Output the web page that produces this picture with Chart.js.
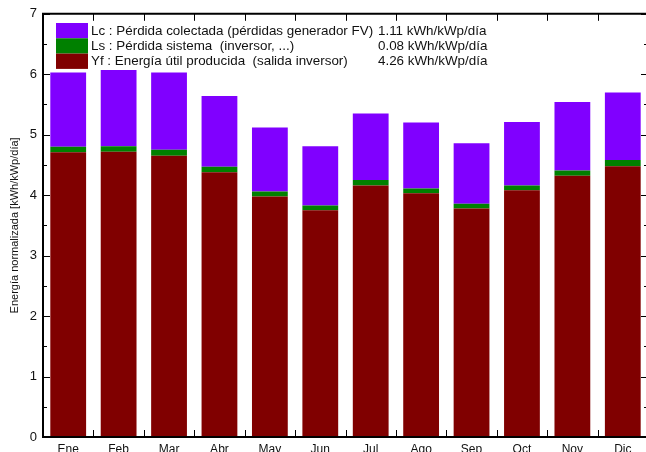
<!DOCTYPE html>
<html>
<head>
<meta charset="utf-8">
<script src="https://cdn.jsdelivr.net/npm/chart.js@4.4.1/dist/chart.umd.min.js"></script>
<style>
  html, body { margin: 0; padding: 0; background: #fff; overflow: hidden; }
  #wrap { width: 650px; height: 452px; position: relative; }
</style>
</head>
<body>
<div id="wrap"><canvas id="c"></canvas></div>
<script>
const months = ["Ene","Feb","Mar","Abr","May","Jun","Jul","Ago","Sep","Oct","Nov","Dic"];
const yfValues = [4.71,4.72,4.65,4.38,3.98,3.75,4.16,4.03,3.78,4.08,4.32,4.48];
const lsValues = [0.09,0.09,0.10,0.09,0.08,0.08,0.09,0.08,0.08,0.08,0.09,0.10];
const lcValues = [1.23,1.26,1.28,1.17,1.06,0.98,1.10,1.09,1.00,1.05,1.13,1.12];
const legendNames = [
  "Lc : Pérdida colectada (pérdidas generador FV)",
  "Ls : Pérdida sistema  (inversor, ...)",
  "Yf : Energía útil producida  (salida inversor)"
];
const legendValues = ["1.11 kWh/kWp/día","0.08 kWh/kWp/día","4.26 kWh/kWp/día"];
const yTicks = [0,1,2,3,4,5,6,7];
const yTitle = "Energía normalizada [kWh/kWp/día]";

const colLc = "#8000ff", colLs = "#008000", colYf = "#800000";
const FONT = "'Liberation Sans', Arial, sans-serif";

const framePlugin = {
  id: "frame",
  afterDatasetsDraw(chart) {
    const ctx = chart.ctx;
    const a = chart.chartArea;
    const xs = chart.scales.x, ys = chart.scales.y;
    ctx.save();
    ctx.strokeStyle = "#000";
    ctx.lineWidth = 1;
    for (let v = 0; v <= 7.0001; v += 0.5) {
      const y = Math.round(ys.getPixelForValue(v)) + 0.5;
      const major = Math.abs(v - Math.round(v)) < 1e-6;
      const len = major ? 7 : 4;
      ctx.beginPath();
      ctx.moveTo(a.left, y); ctx.lineTo(a.left + len, y);
      ctx.moveTo(a.right, y); ctx.lineTo(a.right - len, y);
      ctx.stroke();
    }
    const n = months.length;
    const step = (xs.getPixelForValue(n - 1) - xs.getPixelForValue(0)) / (n - 1);
    for (let i = 1; i < n; i++) {
      const x = Math.round(xs.getPixelForValue(i) - step / 2) + 0.5;
      ctx.beginPath();
      ctx.moveTo(x, a.top); ctx.lineTo(x, a.top + 7);
      ctx.moveTo(x, a.bottom); ctx.lineTo(x, a.bottom - 7);
      ctx.stroke();
    }
    ctx.lineWidth = 2;
    ctx.beginPath();
    ctx.rect(a.left, a.top, a.right - a.left, a.bottom - a.top);
    ctx.stroke();

    const sx = 56, sw = 32, sh = 15.3, sy0 = 23;
    const cols = [colLc, colLs, colYf];
    ctx.font = "13.4px " + FONT;
    ctx.textBaseline = "middle";
    for (let i = 0; i < 3; i++) {
      const y = sy0 + i * sh;
      ctx.fillStyle = cols[i];
      ctx.fillRect(sx, y, sw, sh);
      ctx.fillStyle = "#111";
      ctx.fillText(legendNames[i], 91, y + sh / 2 + 0.5);
      ctx.fillText(legendValues[i], 378, y + sh / 2 + 0.5);
    }
    ctx.restore();
  }
};

new Chart(document.getElementById("c"), {
  type: "bar",
  data: {
    labels: months,
    datasets: [
      { label: "Yf", data: yfValues, backgroundColor: colYf, stack: "s" },
      { label: "Ls", data: lsValues, backgroundColor: colLs, stack: "s" },
      { label: "Lc", data: lcValues, backgroundColor: colLc, stack: "s" }
    ]
  },
  options: {
    responsive: true,
    maintainAspectRatio: false,
    animation: false,
    layout: { padding: { top: 13, right: 2, left: 0, bottom: 0 } },
    datasets: { bar: { categoryPercentage: 1.0, barPercentage: 0.71 } },
    plugins: { legend: { display: false }, tooltip: { enabled: false } },
    scales: {
      x: {
        stacked: true,
        grid: { display: false, drawTicks: false },
        border: { display: false },
        ticks: { color: "#111", font: { family: FONT, size: 12 }, padding: 5, maxRotation: 0, autoSkip: false },
        afterFit(s) { s.height = 15; }
      },
      y: {
        stacked: true,
        min: 0, max: 7,
        grid: { display: false, drawTicks: false },
        border: { display: false },
        afterBuildTicks(s) { s.ticks = yTicks.map(v => ({ value: v })); },
        ticks: { color: "#111", font: { family: FONT, size: 13 }, padding: 6 },
        title: { display: true, text: yTitle, color: "#111", font: { family: FONT, size: 11 }, padding: { top: 8, bottom: 0 } },
        afterFit(s) { s.width = 43; }
      }
    }
  },
  plugins: [framePlugin]
});
</script>
</body>
</html>
